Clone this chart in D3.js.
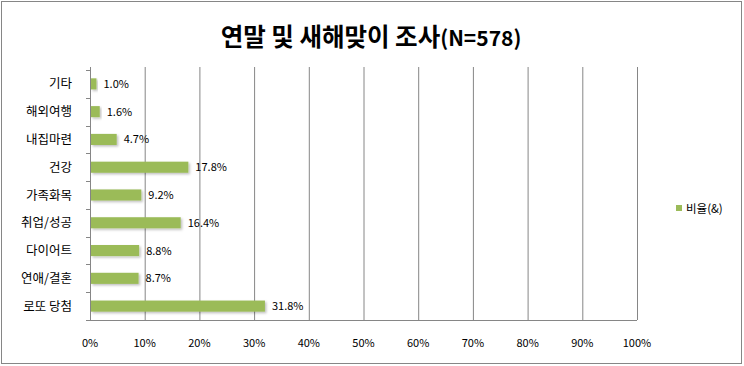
<!DOCTYPE html>
<html><head><meta charset="utf-8">
<script src="https://cdn.jsdelivr.net/npm/d3@7"></script>
<style>body{margin:0;background:#fff}svg{display:block}</style>
</head><body>
<script>
const categories = ["기타","해외여행","내집마련","건강","가족화목","취업/성공","다이어트","연애/결혼","로또 당첨"];
const values = [1.0,1.6,4.7,17.8,9.2,16.4,8.8,8.7,31.8];
const tickValues = [0,10,20,30,40,50,60,70,80,90,100];
const seriesName = "비율(&)";
const titleMain = "연말 및 새해맞이 조사";
const titleSub = "(N=578)";

const W=744,H=366;
const svg=d3.select("body").append("svg").attr("width",W).attr("height",H);
svg.append("rect").attr("x",1.5).attr("y",1.5).attr("width",740).attr("height",362)
  .attr("fill","#fff").attr("stroke","#868686").attr("stroke-width",1);

const font="'Noto Sans CJK KR','Noto Sans',sans-serif";
const t=svg.append("text").attr("x",371).attr("y",46).attr("text-anchor","middle")
  .attr("font-family",font).attr("font-weight","bold").attr("fill","#000");
t.append("tspan").attr("font-size",24.5).text(titleMain);
t.append("tspan").attr("font-size",21).text(titleSub);

const x=d3.scaleLinear().domain([0,100]).range([90,637]);
const y=d3.scaleBand().domain(categories).range([70,320]).paddingInner(0.6).paddingOuter(0.3);

// gridlines
svg.append("g").selectAll("line").data(tickValues).join("line")
  .attr("x1",d=>x(d)+0.5).attr("x2",d=>x(d)+0.5).attr("y1",67).attr("y2",320)
  .attr("stroke","#868686").attr("stroke-width",1);
// bottom axis line
svg.append("line").attr("x1",86).attr("x2",637).attr("y1",320.5).attr("y2",320.5).attr("stroke","#868686");
// left ticks
const bandEdges=categories.map((c,i)=>70+i*(250/9)).concat([320]);
svg.append("g").selectAll("line").data(bandEdges).join("line")
  .attr("x1",86).attr("x2",90).attr("y1",d=>Math.round(d)+0.5).attr("y2",d=>Math.round(d)+0.5).attr("stroke","#868686");

// x axis labels
svg.append("g").selectAll("text").data(tickValues).join("text")
  .attr("x",d=>x(d)).attr("y",347).attr("text-anchor","middle")
  .attr("font-family",font).attr("font-size",11).attr("fill","#000").text(d=>d+"%");

// y labels
svg.append("g").selectAll("text").data(categories).join("text")
  .attr("x",72).attr("y",d=>y(d)+y.bandwidth()/2+4.5).attr("text-anchor","end")
  .attr("font-family",font).attr("font-size",12.5).attr("fill","#000").text(d=>d);

// shadow filter
const defs=svg.append("defs");
const f=defs.append("filter").attr("id","sh").attr("x","-10%").attr("y","-30%").attr("width","130%").attr("height","180%");
f.append("feDropShadow").attr("dx",1.5).attr("dy",1.5).attr("stdDeviation",0.8).attr("flood-color","#000").attr("flood-opacity",0.25);

// bars
svg.append("g").selectAll("rect").data(values).join("rect")
  .attr("x",x(0)+1).attr("y",(d,i)=>y(categories[i]))
  .attr("width",d=>x(d)-x(0)).attr("height",y.bandwidth())
  .attr("fill","#9BBB59").attr("filter","url(#sh)");

// value labels
svg.append("g").selectAll("text").data(values).join("text")
  .attr("x",d=>x(d)+8).attr("y",(d,i)=>y(categories[i])+y.bandwidth()/2+4)
  .attr("font-family",font).attr("font-size",11).attr("fill","#000").text(d=>d.toFixed(1)+"%");

// legend
svg.append("rect").attr("x",676).attr("y",205).attr("width",6).attr("height",6).attr("fill","#9BBB59");
svg.append("text").attr("x",686).attr("y",212.5).attr("font-family",font).attr("font-size",11.5).attr("fill","#000").text(seriesName);
</script>
</body></html>
